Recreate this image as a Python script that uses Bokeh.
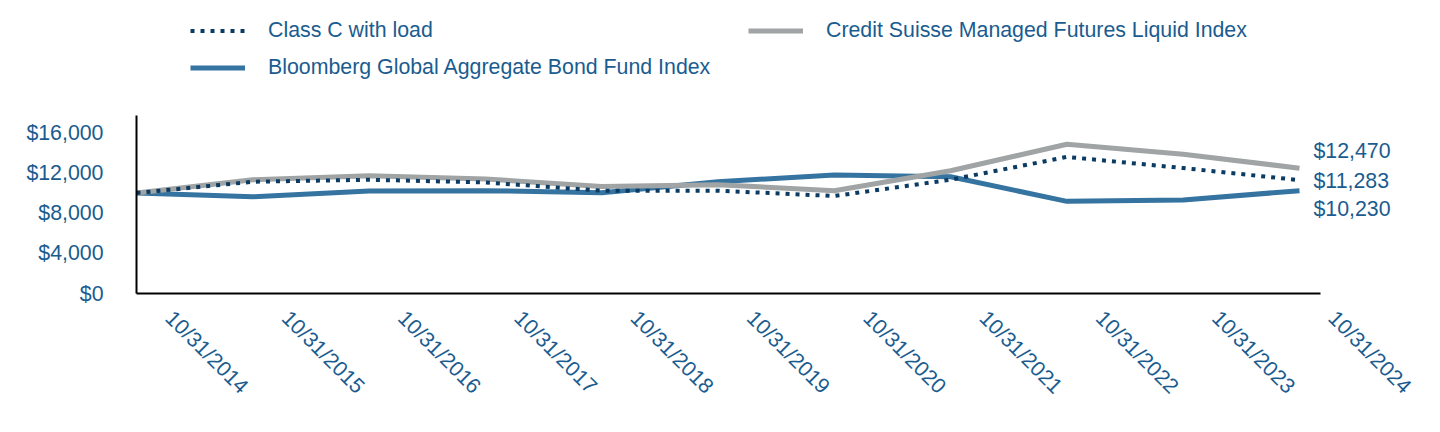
import math
from bokeh.plotting import figure
from bokeh.models import (Range1d, LinearAxis, FixedTicker, NumeralTickFormatter,
                          Legend, LegendItem, Label)
from bokeh.embed import file_html
from bokeh.resources import INLINE

# ---- data ----
dates = ["10/31/2014", "10/31/2015", "10/31/2016", "10/31/2017", "10/31/2018",
         "10/31/2019", "10/31/2020", "10/31/2021", "10/31/2022", "10/31/2023",
         "10/31/2024"]
class_c = [10000, 11120, 11320, 11050, 10230, 10230, 9700, 11320, 13590, 12480, 11283]
bloomberg = [10000, 9630, 10200, 10230, 10030, 11120, 11780, 11610, 9170, 9310, 10230]
credit_suisse = [10000, 11320, 11710, 11390, 10650, 10820, 10230, 12210, 14850, 13860, 12470]
y_ticks = [0, 4000, 8000, 12000, 16000]
names = ["Class C with load", "Credit Suisse Managed Futures Liquid Index",
         "Bloomberg Global Aggregate Bond Fund Index"]

xs = list(range(len(dates)))

TEXT = "#1A5C8F"
NAVY = "#0B3A63"
BLUE = "#3573A0"
GRAY = "#A0A4A4"
FONT = "Liberation Sans"
FS = "16pt"

# layout: frame spans from x=136 to the right edge and from the top edge to y=293
PX_X = 116.3          # px per year
PX_Y = 0.01005        # px per dollar
frame_w = 1440 - 136
frame_h = 293
x_end = frame_w / PX_X
y_end = frame_h / PX_Y
x_axis_end = (1320 - 136) / PX_X
y_axis_end = 17750

p = figure(width=1440, height=432, output_backend="svg", toolbar_location=None,
           x_range=Range1d(0, x_end), y_range=Range1d(0, y_end),
           x_axis_type=None, min_border_left=136, min_border_right=0,
           min_border_top=0, min_border_bottom=432 - frame_h)
p.outline_line_color = None
p.grid.visible = False
p.background_fill_color = "white"
p.border_fill_color = "white"

# y axis
ya = p.yaxis[0]
ya.ticker = FixedTicker(ticks=y_ticks)
ya.formatter = NumeralTickFormatter(format="$0,0")
ya.bounds = (0, y_axis_end)
ya.major_tick_line_color = None
ya.minor_tick_line_color = None
ya.major_tick_out = 0
ya.major_tick_in = 0
ya.major_label_standoff = 33
ya.major_label_text_font = FONT
ya.major_label_text_font_size = FS
ya.major_label_text_color = TEXT
ya.axis_line_color = "black"
ya.axis_line_width = 2

# x axis line (no ticks)
xline = LinearAxis(ticker=FixedTicker(ticks=[]), bounds=(0, x_axis_end))
xline.major_tick_out = 0
xline.major_tick_in = 0
xline.major_label_standoff = 0
xline.axis_line_color = "black"
xline.axis_line_width = 2
p.add_layout(xline, "below")

# x tick labels, shifted right of the data points
shift = 0.28
p.extra_x_ranges = {"lbl": Range1d(-shift, x_end - shift)}
xa = LinearAxis(x_range_name="lbl")
xa.ticker = FixedTicker(ticks=xs)
xa.major_label_overrides = {i: d for i, d in zip(xs, dates)}
xa.major_label_orientation = -math.pi / 4
xa.major_tick_line_color = None
xa.minor_tick_line_color = None
xa.major_tick_out = 0
xa.major_tick_in = 0
xa.major_label_standoff = 21
xa.major_label_text_font = FONT
xa.major_label_text_font_size = FS
xa.major_label_text_color = TEXT
xa.axis_line_color = None
p.add_layout(xa, "below")

r_blue = p.line(xs, bloomberg, line_color=BLUE, line_width=5)
r_gray = p.line(xs, credit_suisse, line_color=GRAY, line_width=5)
r_dot = p.line(xs, class_c, line_color=NAVY, line_width=4, line_dash="4 6")

legend = Legend(items=[LegendItem(label=names[0], renderers=[r_dot]),
                       LegendItem(label=names[1], renderers=[r_gray]),
                       LegendItem(label=names[2], renderers=[r_blue])],
                location=(54, 213), orientation="horizontal", ncols=2,
                glyph_width=55, glyph_height=25, label_height=25,
                label_width=468, label_standoff=23, spacing=12, padding=0,
                margin=0, border_line_color=None, background_fill_alpha=0,
                label_text_font=FONT, label_text_font_size=FS,
                label_text_color=TEXT)
p.add_layout(legend, "center")

# end labels
offsets = [-0.5, 17.5, -18.5]
for series, off in zip([class_c, credit_suisse, bloomberg], offsets):
    v = series[-1]
    p.add_layout(Label(x=xs[-1], y=v, x_offset=14, y_offset=off,
                       text="${:,.0f}".format(v), text_align="left",
                       text_baseline="middle", text_font=FONT,
                       text_font_size=FS, text_color=TEXT))

open("out.html", "w").write(file_html(p, INLINE))
